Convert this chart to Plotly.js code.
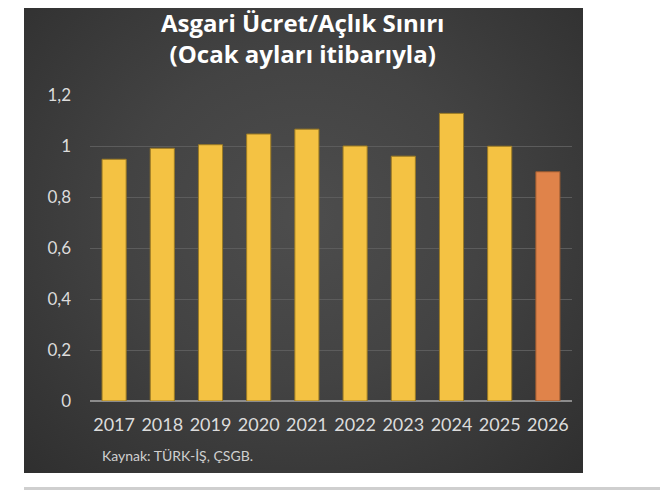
<!DOCTYPE html>
<html>
<head>
<meta charset="utf-8">
<script src="https://cdn.plot.ly/plotly-3.0.1.min.js"></script>
<style>
  html, body { margin: 0; padding: 0; background: #ffffff; }
  #wrap { position: relative; width: 660px; height: 491px; overflow: hidden; }
  #bg { position: absolute; left: 24px; top: 8px; width: 559px; height: 465px;
        background: radial-gradient(ellipse at 50% 45%, #4d4d4d 0%, #434343 45%, #2f2f2f 100%); }
  #rule { position: absolute; left: 24px; top: 487px; width: 636px; height: 3px; background: #cfcfcf; }
  #chart { position: absolute; left: 0; top: 0; width: 660px; height: 491px; }
</style>
</head>
<body>
<div id="wrap">
  <div id="bg"></div>
  <div id="rule"></div>
  <div id="chart"></div>
</div>
<script>
const years = ["2017","2018","2019","2020","2021","2022","2023","2024","2025","2026"];
const ratio = [0.948, 0.991, 1.005, 1.047, 1.066, 1.0, 0.96, 1.128, 0.999, 0.899];
const barColors = ["#F4C243","#F4C243","#F4C243","#F4C243","#F4C243","#F4C243","#F4C243","#F4C243","#F4C243","#E0834A"];
const lineColors = ["#9a7a25","#9a7a25","#9a7a25","#9a7a25","#9a7a25","#9a7a25","#9a7a25","#9a7a25","#9a7a25","#9a5a30"];
const yTicks = [0, 0.2, 0.4, 0.6, 0.8, 1, 1.2];
const titleText = "Asgari Ücret/Açlık Sınırı<br>(Ocak ayları itibarıyla)";
const sourceText = "Kaynak: TÜRK-İŞ, ÇSGB.";

const FONT = "Lato, 'Open Sans', sans-serif";
const TFONT = "'Open Sans', Lato, sans-serif";

// plot area in pixels: x 90..572, y 95..401
const px2x = px => (px - 90) / 482;
const px2y = py => (401 - py) / 306;

const trace = {
  type: "bar",
  x: years,
  y: ratio,
  marker: { color: barColors, line: { color: lineColors, width: 1 } },
  hoverinfo: "x+y"
};

const layout = {
  width: 660, height: 491,
  margin: { l: 90, r: 88, t: 95, b: 90, pad: 0 },
  paper_bgcolor: "rgba(0,0,0,0)",
  plot_bgcolor: "rgba(0,0,0,0)",
  separators: ",.",
  bargap: 0.5,
  showlegend: false,
  font: { family: FONT, color: "#d9d9d9" },
  xaxis: {
    type: "category",
    tickfont: { family: FONT, size: 18, color: "#dcdcdc" },
    showgrid: false, zeroline: false, showline: false,
    ticks: "", ticklabelstandoff: 11
  },
  yaxis: {
    range: [0, 1.2],
    tickvals: yTicks,
    tickfont: { family: FONT, size: 17, color: "#dcdcdc" },
    showgrid: true, gridcolor: "#5c5c5c", gridwidth: 1,
    zeroline: true, zerolinecolor: "#8c8c8c", zerolinewidth: 1.5,
    showline: false, ticks: "", ticklabelstandoff: 18
  },
  annotations: [
    {
      text: titleText, xref: "paper", yref: "paper",
      x: px2x(302), xanchor: "center", y: px2y(38), yanchor: "middle",
      showarrow: false,
      font: { family: TFONT, size: 24, color: "#ffffff", weight: "bold" }
    },
    {
      text: sourceText, xref: "paper", yref: "paper",
      x: px2x(100), xanchor: "left", y: px2y(455), yanchor: "middle",
      showarrow: false,
      font: { family: FONT, size: 14, color: "#d0d0d0" }
    }
  ]
};

Plotly.newPlot("chart", [trace], layout, { displayModeBar: false, staticPlot: true });
</script>
</body>
</html>
